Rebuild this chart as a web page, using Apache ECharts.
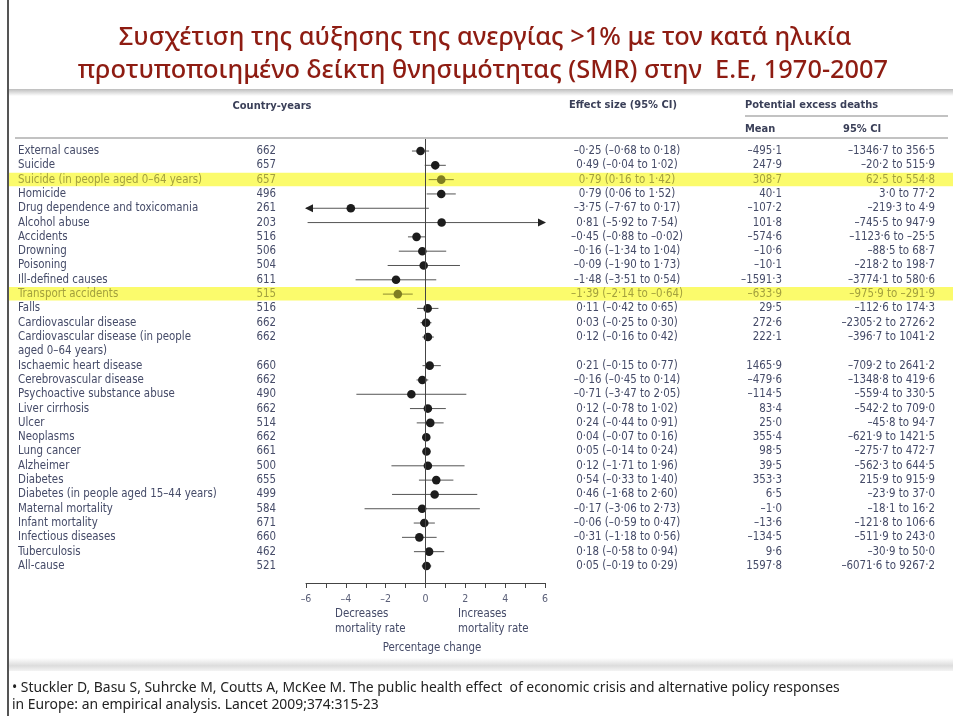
<!DOCTYPE html>
<html>
<head>
<meta charset="utf-8">
<script src="https://cdn.jsdelivr.net/npm/echarts@6/dist/echarts.min.js"></script>
<style>
  html, body { margin: 0; padding: 0; background: #fff; }
  #chart { width: 953px; height: 716px; }
</style>
</head>
<body>
<div id="chart"></div>
<script>
  const causes = [
    'External causes', 'Suicide', 'Suicide (in people aged 0–64 years)', 'Homicide',
    'Drug dependence and toxicomania', 'Alcohol abuse', 'Accidents', 'Drowning', 'Poisoning',
    'Ill-defined causes', 'Transport accidents', 'Falls', 'Cardiovascular disease',
    'Cardiovascular disease (in people\naged 0–64 years)', 'Ischaemic heart disease',
    'Cerebrovascular disease', 'Psychoactive substance abuse', 'Liver cirrhosis', 'Ulcer',
    'Neoplasms', 'Lung cancer', 'Alzheimer', 'Diabetes', 'Diabetes (in people aged 15–44 years)',
    'Maternal mortality', 'Infant mortality', 'Infectious diseases', 'Tuberculosis', 'All-cause'
  ];
  const countryYears = [662, 657, 657, 496, 261, 203, 516, 506, 504, 611, 515, 516, 662, 662, 660,
    662, 490, 662, 514, 662, 661, 500, 655, 499, 584, 671, 660, 462, 521];
  const effect = [-0.25, 0.49, 0.79, 0.79, -3.75, 0.81, -0.45, -0.16, -0.09, -1.48, -1.39, 0.11, 0.03,
    0.12, 0.21, -0.16, -0.71, 0.12, 0.24, 0.04, 0.05, 0.12, 0.54, 0.46, -0.17, -0.06, -0.31, 0.18, 0.05];
  const effectLo = [-0.68, -0.04, 0.16, 0.06, -7.67, -5.92, -0.88, -1.34, -1.90, -3.51, -2.14, -0.42, -0.25,
    -0.16, -0.15, -0.45, -3.47, -0.78, -0.44, -0.07, -0.14, -1.71, -0.33, -1.68, -3.06, -0.59, -1.18, -0.58, -0.19];
  const effectHi = [0.18, 1.02, 1.42, 1.52, 0.17, 7.54, -0.02, 1.04, 1.73, 0.54, -0.64, 0.65, 0.30,
    0.42, 0.77, 0.14, 2.05, 1.02, 0.91, 0.16, 0.24, 1.96, 1.40, 2.60, 2.73, 0.47, 0.56, 0.94, 0.29];
  const deathsMean = [-495.1, 247.9, 308.7, 40.1, -107.2, 101.8, -574.6, -10.6, -10.1, -1591.3, -633.9, 29.5,
    272.6, 222.1, 1465.9, -479.6, -114.5, 83.4, 25.0, 355.4, 98.5, 39.5, 353.3, 6.5, -1.0, -13.6, -134.5, 9.6, 1597.8];
  const deathsLo = [-1346.7, -20.2, 62.5, 3.0, -219.3, -745.5, -1123.6, -88.5, -218.2, -3774.1, -975.9, -112.6,
    -2305.2, -396.7, -709.2, -1348.8, -559.4, -542.2, -45.8, -621.9, -275.7, -562.3, 215.9, -23.9, -18.1,
    -121.8, -511.9, -30.9, -6071.6];
  const deathsHi = [356.5, 515.9, 554.8, 77.2, 4.9, 947.9, -25.5, 68.7, 198.7, 580.6, -291.9, 174.3,
    2726.2, 1041.2, 2641.2, 419.6, 330.5, 709.0, 94.7, 1421.5, 472.7, 644.5, 915.9, 37.0, 16.2,
    106.6, 243.0, 50.0, 9267.2];
  const highlighted = [2, 10];

  const TEXT = '#454b68';
  const HL_TEXT = '#a3a03e';
  const FONT = '"DejaVu Sans Condensed", "DejaVu Sans", sans-serif';
  const ROW = 14.31;
  const SIZE = '11.4px ';

  function dec(v, n) {
    return (v < 0 ? '–' : '') + Math.abs(v).toFixed(n).replace('.', '·');
  }

  // row slot (a two-line label takes two slots)
  let next = 0;
  const slots = causes.map(c => {
    const s = next;
    next += c.split('\n').length;
    return s;
  });

  const rows = causes.map((c, i) => [slots[i], effect[i], effectLo[i], effectHi[i]]);

  function renderRow(params, api) {
    const i = params.dataIndex;
    const s = api.value(0);
    const yc = api.coord([0, s])[1];
    const hl = highlighted.indexOf(i) >= 0;
    const fill = hl ? HL_TEXT : TEXT;
    const children = [];

    if (hl) {
      children.push({ type: 'rect', shape: { x: 9, y: yc - 7, width: 944, height: 13.5 },
        style: { fill: '#fbfb6c' } });
    }

    const txt = (x, text, align) => ({
      type: 'text',
      style: { x: x, y: yc, text: text, fill: fill, font: SIZE + FONT, textAlign: align, textVerticalAlign: 'middle' }
    });
    children.push({
      type: 'text',
      style: { x: 18, y: yc - ROW / 2, text: causes[i], fill: fill, font: SIZE + FONT,
        lineHeight: ROW, textAlign: 'left', textVerticalAlign: 'top' }
    });
    children.push(txt(276, String(countryYears[i]), 'right'));
    children.push(txt(627, dec(effect[i], 2) + ' (' + dec(effectLo[i], 2) + ' to ' + dec(effectHi[i], 2) + ')', 'center'));
    children.push(txt(782, dec(deathsMean[i], 1), 'right'));
    children.push(txt(935, dec(deathsLo[i], 1) + ' to ' + dec(deathsHi[i], 1), 'right'));

    const lo = api.value(2), hi = api.value(3), est = api.value(1);
    const xa = api.coord([Math.max(lo, -6), s])[0];
    const xb = api.coord([Math.min(hi, 6), s])[0];
    const xe = api.coord([est, s])[0];
    const lineCol = hl ? '#8d8b30' : '#555';
    children.push({ type: 'line', shape: { x1: xa, y1: yc, x2: xb, y2: yc },
      style: { stroke: lineCol, lineWidth: 1 } });
    if (lo < -6) {
      children.push({ type: 'polygon', shape: { points: [[xa - 1, yc], [xa + 7, yc - 4], [xa + 7, yc + 4]] },
        style: { fill: '#222' } });
    }
    if (hi > 6) {
      children.push({ type: 'polygon', shape: { points: [[xb + 1, yc], [xb - 7, yc - 4], [xb - 7, yc + 4]] },
        style: { fill: '#222' } });
    }
    children.push({ type: 'circle', shape: { cx: xe, cy: yc, r: 4.3 },
      style: { fill: hl ? '#7f7d22' : '#1c1c1c' } });

    return { type: 'group', children: children };
  }

  const chart = echarts.init(document.getElementById('chart'));

  chart.setOption({
    backgroundColor: '#fff',
    animation: false,
    grid: { left: 306, right: 408, top: 139, bottom: 133 },
    xAxis: {
      type: 'value', min: -6, max: 6, interval: 1,
      splitLine: { show: false },
      axisLine: { show: true, onZero: false, lineStyle: { color: '#444', width: 1 } },
      axisTick: { show: true, length: 5, lineStyle: { color: '#444' } },
      axisLabel: {
        color: '#5a5f78', fontSize: 10.5, fontFamily: FONT, margin: 11,
        formatter: v => (v % 2 === 0 ? (v < 0 ? '–' + (-v) : String(v)) : '')
      }
    },
    yAxis: {
      type: 'value', min: -0.84, max: 30.19, inverse: true, show: false
    },
    series: [{
      type: 'custom',
      renderItem: renderRow,
      encode: { x: 1, y: 0 },
      data: rows,
      clip: false,
      markLine: {
        silent: true,
        symbol: 'none',
        label: { show: false },
        lineStyle: { color: '#444', width: 1, type: 'solid' },
        data: [{ xAxis: 0 }]
      }
    }],
    graphic: [
      { type: 'rect', shape: { x: 7, y: 0, width: 2, height: 716 }, style: { fill: '#555' } },
      { type: 'text', style: { x: 485, y: 38, text: 'Συσχέτιση της αύξησης της ανεργίας >1% με τον κατά ηλικία',
        font: '500 25.4px "Noto Sans", sans-serif', fill: '#8e1c12', textAlign: 'center', textVerticalAlign: 'middle' } },
      { type: 'text', style: { x: 483, y: 71, text: 'προτυποποιημένο δείκτη θνησιμότητας (SMR) στην  Ε.Ε, 1970-2007',
        font: '500 25.4px "Noto Sans", sans-serif', fill: '#8e1c12', textAlign: 'center', textVerticalAlign: 'middle' } },
      { type: 'rect', shape: { x: 9, y: 89, width: 944, height: 7 },
        style: { fill: new echarts.graphic.LinearGradient(0, 0, 0, 1, [
          { offset: 0, color: '#bdbdbd' }, { offset: 1, color: '#ffffff' }]) } },
      { type: 'text', style: { x: 272, y: 106, text: 'Country-years', font: 'bold 11px ' + FONT,
        fill: '#3a3f58', textAlign: 'center', textVerticalAlign: 'middle' } },
      { type: 'text', style: { x: 623, y: 105, text: 'Effect size (95% CI)', font: 'bold 11px ' + FONT,
        fill: '#3a3f58', textAlign: 'center', textVerticalAlign: 'middle' } },
      { type: 'text', style: { x: 745, y: 105, text: 'Potential excess deaths', font: 'bold 11px ' + FONT,
        fill: '#3a3f58', textAlign: 'left', textVerticalAlign: 'middle' } },
      { type: 'rect', shape: { x: 745, y: 115, width: 203, height: 2 }, style: { fill: '#c2c2c2' } },
      { type: 'text', style: { x: 745, y: 129, text: 'Mean', font: 'bold 11px ' + FONT,
        fill: '#3a3f58', textAlign: 'left', textVerticalAlign: 'middle' } },
      { type: 'text', style: { x: 843, y: 129, text: '95% CI', font: 'bold 11px ' + FONT,
        fill: '#3a3f58', textAlign: 'left', textVerticalAlign: 'middle' } },
      { type: 'rect', shape: { x: 15, y: 137, width: 933, height: 2 }, style: { fill: '#c2c2c2' } },
      { type: 'text', style: { x: 335, y: 607, text: 'Decreases\nmortality rate', font: SIZE + FONT,
        lineHeight: 15, fill: TEXT, textAlign: 'left', textVerticalAlign: 'top' } },
      { type: 'text', style: { x: 458, y: 607, text: 'Increases\nmortality rate', font: SIZE + FONT,
        lineHeight: 15, fill: TEXT, textAlign: 'left', textVerticalAlign: 'top' } },
      { type: 'text', style: { x: 432, y: 648, text: 'Percentage change', font: SIZE + FONT,
        fill: TEXT, textAlign: 'center', textVerticalAlign: 'middle' } },
      { type: 'rect', shape: { x: 9, y: 658, width: 944, height: 13 },
        style: { fill: new echarts.graphic.LinearGradient(0, 0, 0, 1, [
          { offset: 0, color: '#ffffff' }, { offset: 0.6, color: '#dcdcdc' }, { offset: 1, color: '#f4f4f4' }]) } },
      { type: 'text', style: { x: 12, y: 688, text: '• Stuckler D, Basu S, Suhrcke M, Coutts A, McKee M. The public health effect  of economic crisis and alternative policy responses',
        font: '13.9px "Noto Sans", sans-serif', fill: '#222', textAlign: 'left', textVerticalAlign: 'middle' } },
      { type: 'text', style: { x: 12, y: 705, text: 'in Europe: an empirical analysis. Lancet 2009;374:315-23',
        font: '13.9px "Noto Sans", sans-serif', fill: '#222', textAlign: 'left', textVerticalAlign: 'middle' } }
    ]
  });
</script>
</body>
</html>
